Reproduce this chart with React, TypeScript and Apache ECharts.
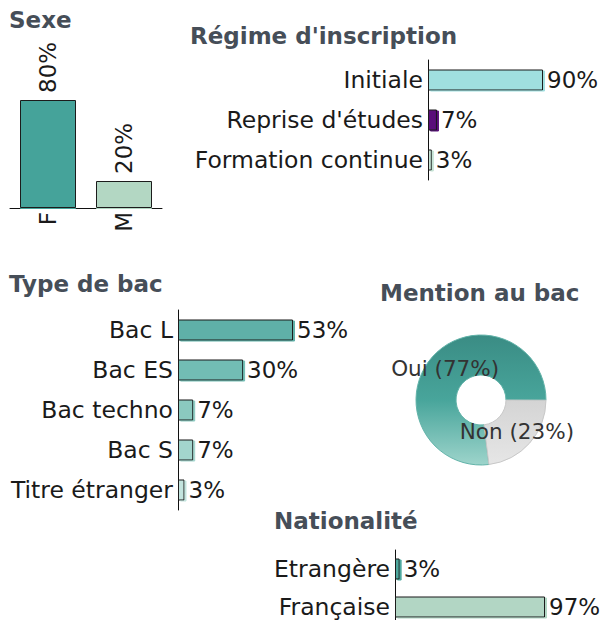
import React, { useEffect, useRef } from "react";
import * as echarts from "echarts";

// ---- Data ----
const sexeCats = ["F", "M"];
const sexeValues = [80, 20];

const regimeCats = ["Initiale", "Reprise d'études", "Formation continue"];
const regimeValues = [90, 7, 3];

const bacCats = ["Bac L", "Bac ES", "Bac techno", "Bac S", "Titre étranger"];
const bacValues = [53, 30, 7, 7, 3];

const mentionCats = ["Oui", "Non"];
const mentionValues = [77, 23];

const natCats = ["Etrangère", "Française"];
const natValues = [3, 97];

const titles = ["Sexe", "Régime d'inscription", "Type de bac", "Mention au bac", "Nationalité"];

// ---- Palettes ----
const sexeColors = ["#45a39a", "#b3d7c3"];
const regimeColors = ["#a0dfdf", "#5a0a7a", "#c6e4d6"];
const bacColors = ["#5fb0a8", "#72bdb4", "#8bc9bf", "#a3d5cd", "#c3e4de"];
const natColors = ["#4fa99f", "#b2d6c4"];

const FONT = "DejaVu Sans";
const TEXT = "#1a1a1a";
const TITLE = "#464e58";

function barItems(values: number[], colors: string[], horizontal: boolean) {
  return values.map((v, i) => ({
    value: v,
    itemStyle: {
      color: colors[i % colors.length],
      borderColor: "#1a1a1a",
      borderWidth: 1,
      shadowColor: colors[i % colors.length],
      shadowOffsetX: horizontal ? 2 : 0,
      shadowOffsetY: 1,
      shadowBlur: 0,
    },
  }));
}

function hBar(gridIndex: number, values: number[], colors: string[]) {
  return {
    type: "bar",
    xAxisIndex: gridIndex,
    yAxisIndex: gridIndex,
    barWidth: 21,
    data: barItems(values, colors, true),
    label: {
      show: true,
      position: "right",
      distance: 4,
      formatter: "{c}%",
      fontFamily: FONT,
      fontSize: 23,
      color: TEXT,
    },
  };
}

function catAxis(gridIndex: number, cats: string[]) {
  return {
    type: "category",
    gridIndex,
    data: cats,
    inverse: true,
    axisLine: { show: true, lineStyle: { color: "#111", width: 1 } },
    axisTick: { show: false },
    axisLabel: { fontFamily: FONT, fontSize: 23.5, color: TEXT, margin: 5 },
  };
}

function valAxis(gridIndex: number) {
  return { type: "value", gridIndex, min: 0, max: "dataMax", show: false };
}

export default function App() {
  const ref = useRef<HTMLDivElement>(null);

  useEffect(() => {
    document.body.style.margin = "0";
    const chart = echarts.init(ref.current!, null, { renderer: "svg" });
    const titleStyle = { fontFamily: FONT, fontSize: 23, fontWeight: "bold", color: TITLE };
    const t = (text: string, left: number, top: number) => ({ text, left, top, padding: 0, textStyle: titleStyle });
    const option: any = {
      animation: false,
      backgroundColor: "#ffffff",
      title: [
        t(titles[0], 9, 8),
        t(titles[1], 190, 24),
        t(titles[2], 9, 272),
        t(titles[3], 380, 281),
        t(titles[4], 274, 509),
      ],
      grid: [
        { left: 10, top: 73, width: 152, height: 135, outerBoundsMode: "none" },
        { left: 428, top: 60, width: 115, height: 120, outerBoundsMode: "none" },
        { left: 178, top: 310, width: 115, height: 200, outerBoundsMode: "none" },
        { left: 395, top: 550, width: 150, height: 76, outerBoundsMode: "none" },
      ],
      xAxis: [
        {
          type: "category",
          gridIndex: 0,
          data: sexeCats,
          axisLine: { show: true, lineStyle: { color: "#111", width: 1 } },
          axisTick: { show: false },
          axisLabel: { fontFamily: FONT, fontSize: 23, color: TEXT, rotate: 90, margin: 4 },
        },
        valAxis(1),
        valAxis(2),
        valAxis(3),
      ],
      yAxis: [
        { type: "value", gridIndex: 0, min: 0, max: 100, show: false },
        catAxis(1, regimeCats),
        catAxis(2, bacCats),
        catAxis(3, natCats),
      ],
      series: [
        {
          type: "bar",
          xAxisIndex: 0,
          yAxisIndex: 0,
          barWidth: 56,
          data: barItems(sexeValues, sexeColors, false),
          label: {
            show: true,
            position: "top",
            rotate: 90,
            align: "left",
            verticalAlign: "middle",
            distance: 7,
            formatter: "{c}%",
            fontFamily: FONT,
            fontSize: 23,
            color: TEXT,
          },
        },
        hBar(1, regimeValues, regimeColors),
        hBar(2, bacValues, bacColors),
        hBar(3, natValues, natColors),
        {
          type: "pie",
          center: [481, 400],
          radius: [25, 65],
          startAngle: 277,
          clockwise: true,
          label: {
            show: true,
            position: "inside",
            formatter: "{b} ({c}%)",
            fontFamily: FONT,
            fontSize: 21.5,
            color: "#333",
          },
          labelLine: { show: false },
          emphasis: { disabled: true },
          data: mentionCats.map((c, i) => ({
            name: c,
            value: mentionValues[i],
            itemStyle:
              i === 0
                ? {
                    color: {
                      type: "linear",
                      x: 0, y: 0, x2: 0, y2: 1,
                      colorStops: [
                        { offset: 0, color: "#3a8c84" },
                        { offset: 0.5, color: "#48a59b" },
                        { offset: 1, color: "#9dd4cb" },
                      ],
                    },
                    borderColor: "#62b3a9",
                    borderWidth: 1,
                  }
                : {
                    color: {
                      type: "linear",
                      x: 0, y: 0, x2: 0, y2: 1,
                      colorStops: [
                        { offset: 0, color: "#d4d4d4" },
                        { offset: 1, color: "#e6e6e6" },
                      ],
                    },
                    borderColor: "#c8c8c8",
                    borderWidth: 1,
                  },
          })),
        },
      ],
    };
    chart.setOption(option);
    return () => chart.dispose();
  }, []);

  return <div ref={ref} style={{ width: 602, height: 620 }} />;
}
